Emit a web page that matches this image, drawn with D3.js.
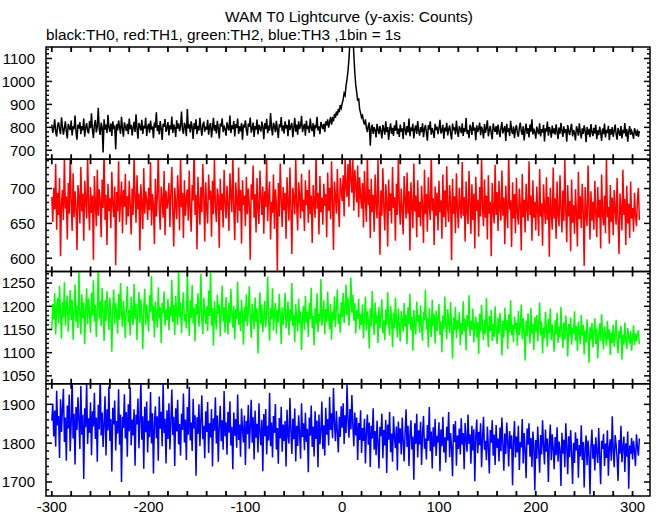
<!DOCTYPE html>
<html><head><meta charset="utf-8">
<script src="https://cdn.jsdelivr.net/npm/d3@7/dist/d3.min.js"></script>
<style>body{margin:0;background:#fff}text{font-family:"Liberation Sans",Arial,sans-serif}</style>
</head><body><svg id="c" width="661" height="515"></svg>
<script>
const titleText = "WAM T0 Lightcurve (y-axis: Counts)";
const subtitleText = "black:TH0, red:TH1, green:TH2, blue:TH3 ,1bin = 1s";
const binStart = -300; // time of first 1 s bin
const xTickLabels = [-300, -200, -100, 0, 100, 200, 300];

const th0 = [
812,776,798,835,781,760,809,822,790,771,844,803,768,797,826,783,752,815,799,788,
830,765,804,792,851,779,746,812,795,823,770,806,787,838,759,801,818,784,773,827,
796,861,789,754,810,832,778,804,885,792,767,820,801,690,835,790,812,776,855,799,
781,817,763,826,793,808,705,814,787,830,801,772,846,795,759,822,803,784,815,770,
838,792,811,765,799,824,780,857,796,751,819,804,787,833,771,808,795,842,762,801,
816,777,829,790,805,753,821,798,866,784,810,769,827,793,745,815,802,836,780,797,
823,765,809,791,847,776,812,799,758,831,794,817,783,806,869,789,772,820,804,761,
880,795,813,778,826,801,749,818,792,835,770,807,786,842,797,764,811,825,781,803,
790,833,768,805,819,756,798,841,785,810,773,828,796,752,817,803,839,779,808,791,
764,822,800,786,851,775,809,793,827,760,814,797,838,771,805,783,819,746,812,799,
831,788,764,816,802,843,777,795,821,758,806,790,834,769,811,796,782,825,803,748,
818,793,837,774,808,786,862,799,765,820,806,779,828,791,754,813,800,845,783,809,
772,826,795,810,761,834,788,804,819,757,797,841,781,812,768,826,793,806,850,779,
801,815,764,829,792,807,776,838,798,783,818,759,811,796,846,787,804,770,823,808,
792,815,780,826,808,835,799,822,846,812,838,827,858,841,869,852,880,866,897,884,
905,921,948,939,982,1010,1046,1098,1175,1230,1260,1205,1120,1040,985,952,915,928,880,862,
843,851,826,812,835,798,779,808,821,720,795,812,772,801,788,756,815,792,770,806,
784,752,811,793,768,826,779,801,745,790,817,772,798,763,809,785,831,770,795,758,
812,781,796,749,823,790,766,805,778,838,761,799,784,815,752,792,808,771,827,786,
764,801,779,818,757,793,811,775,742,809,790,826,768,797,781,754,815,788,803,770,
796,833,773,785,811,750,799,782,820,765,791,808,774,747,816,787,800,769,829,783,
758,806,792,775,818,763,797,781,840,772,788,753,811,796,767,823,785,799,744,809,
779,794,821,766,803,787,752,814,776,798,831,761,789,806,773,748,817,792,780,805,
768,812,784,757,797,823,774,790,806,741,815,779,796,762,828,787,771,804,753,792,
810,775,759,798,821,783,767,805,743,789,816,772,797,756,812,781,835,769,794,778,
751,803,786,770,818,760,792,777,811,739,796,782,825,764,801,787,755,808,774,795,
768,813,781,749,799,772,820,786,758,804,775,792,738,810,783,766,797,815,761,788,
776,743,805,790,764,818,779,752,796,771,809,785,735,801,768,793,757,814,780,762,
798,773,811,748,787,766,803,779,741,795,770,816,756,789,775,807,744,792,768,801,
759,784,812,771,746,797,778,763,806,752,789,774,819,760,793,738,781,805,767,785,
772,750,796,781,763,790,758,784];

const th1 = [
688,652,701,670,735,641,694,662,715,603,679,698,655,746,671,689,627,708,664,750,
681,639,722,659,696,673,612,705,688,650,731,667,693,625,711,684,657,748,676,640,
702,665,690,598,718,679,646,727,661,699,682,630,713,672,756,655,691,619,707,668,
686,643,724,677,659,703,590,695,667,739,652,681,710,636,698,674,721,648,689,660,
711,676,634,700,662,747,685,651,719,670,693,611,706,678,642,729,664,696,683,655,
701,669,738,647,692,676,620,714,660,688,752,672,641,703,685,658,725,633,697,671,
682,708,645,693,731,666,617,701,678,656,719,687,640,749,673,694,629,712,661,686,
699,654,726,670,638,705,683,760,662,691,613,717,677,648,702,666,735,689,624,709,
672,650,720,684,697,631,711,663,742,675,652,700,688,615,714,669,693,644,727,680,
657,704,678,639,722,691,666,748,673,626,709,685,651,730,668,698,621,712,676,690,
646,717,663,700,679,598,706,684,733,658,692,637,715,671,649,726,687,662,703,635,
696,674,741,653,688,710,627,681,665,720,642,699,677,581,708,660,736,683,645,702,
669,694,628,716,679,654,730,672,606,701,686,663,744,675,640,709,690,657,721,667,
684,639,712,676,698,651,727,663,690,622,705,680,658,751,671,694,634,718,666,687,
648,707,675,692,630,723,668,701,656,739,681,612,710,690,664,728,677,645,715,697,
682,719,660,746,701,688,735,674,758,712,694,741,668,727,705,680,733,659,716,690,
671,708,644,725,683,652,749,676,699,629,714,666,691,638,720,678,657,742,670,605,
697,661,729,675,640,706,684,617,713,668,693,650,731,672,688,625,707,662,745,679,
648,700,670,634,718,685,657,723,664,696,611,709,676,643,736,667,690,630,712,659,
681,646,704,672,622,727,663,692,638,716,674,655,750,668,686,619,703,661,694,640,
711,666,683,628,720,659,697,645,732,671,652,705,680,597,714,664,689,636,722,670,
643,701,675,657,738,661,688,624,710,667,649,725,678,635,706,655,693,614,717,668,
684,631,702,660,745,673,646,713,658,690,627,719,664,681,603,708,669,650,734,662,
695,639,711,672,654,726,661,687,620,704,667,643,752,670,683,616,709,657,692,636,
715,665,648,700,676,611,721,659,684,637,707,670,653,739,662,690,625,712,658,681,
640,703,669,632,728,660,679,618,706,671,649,716,655,688,602,701,665,641,730,657,
686,628,710,662,646,719,674,637,697,653,741,667,623,705,660,682,610,713,651,676,
635,699,664,617,724,656,689,643,707,668,589,702,661,646,733,672,627,696,654,681,
641,711,666,630,702,658,684,614,720,663,647,690,636,745,659,674,621,705,652,687,
633,698,667,648,715,655,606,693,671,640,727,662,685,619,704,650,678,629,710,657,
672,638,694,661,646,683,701,655];

const th2 = [
1150,1205,1172,1228,1139,1196,1218,1163,1244,1181,1130,1209,1176,1252,1158,1199,1223,1145,1187,1235,
1170,1214,1128,1193,1247,1166,1201,1153,1285,1182,1140,1226,1175,1208,1119,1192,1239,1161,1217,1185,
1143,1229,1180,1256,1167,1203,1134,1191,1290,1174,1211,1157,1240,1186,1125,1213,1168,1233,1194,1149,
1219,1177,1102,1198,1236,1162,1207,1184,1141,1227,1171,1250,1189,1155,1212,1178,1131,1200,1243,1165,
1192,1137,1221,1183,1159,1248,1173,1206,1127,1195,1231,1164,1215,1179,1108,1197,1238,1160,1204,1176,
1145,1224,1188,1266,1169,1201,1133,1210,1182,1154,1241,1174,1198,1121,1207,1186,1232,1158,1193,1170,
1216,1148,1199,1178,1257,1166,1203,1138,1222,1185,1160,1288,1176,1209,1142,1194,1230,1168,1184,1152,
1279,1190,1136,1213,1175,1246,1163,1197,1124,1205,1181,1228,1156,1192,1270,1171,1140,1218,1187,1162,
1200,1147,1234,1179,1281,1158,1196,1115,1211,1173,1150,1225,1183,1204,1135,1191,1245,1167,1198,1143,
1220,1176,1139,1208,1164,1237,1186,1154,1201,1129,1194,1172,1253,1160,1189,1146,1214,1180,1117,1199,
1168,1226,1157,1190,1243,1175,1132,1206,1181,1151,1219,1166,1195,1098,1184,1230,1161,1203,1144,1178,
1212,1155,1187,1264,1169,1126,1196,1173,1239,1148,1183,1207,1141,1192,1165,1227,1179,1119,1198,1160,
1185,1229,1152,1174,1211,1137,1193,1168,1250,1157,1182,1123,1205,1171,1146,1216,1163,1189,1106,1176,
1201,1149,1222,1165,1188,1134,1207,1172,1240,1153,1179,1116,1196,1161,1228,1144,1184,1167,1259,1158,
1181,1213,1140,1194,1166,1232,1175,1150,1205,1128,1188,1170,1221,1155,1197,1236,1162,1184,1143,1209,
1176,1229,1164,1195,1247,1180,1218,1158,1201,1262,1186,1225,1169,1207,1141,1192,1173,1216,1150,1183,
1160,1204,1131,1177,1221,1148,1189,1166,1109,1196,1157,1233,1172,1138,1208,1163,1182,1121,1199,1153,
1178,1215,1142,1170,1127,1193,1159,1230,1164,1137,1201,1175,1112,1186,1152,1219,1168,1133,1195,1160,
1124,1190,1171,1145,1207,1156,1183,1118,1198,1162,1227,1149,1177,1104,1192,1158,1139,1210,1166,1181,
1143,1202,1154,1126,1188,1169,1236,1150,1175,1111,1196,1161,1134,1214,1157,1183,1120,1191,1147,1172,
1205,1138,1167,1101,1180,1151,1221,1159,1129,1194,1163,1142,1209,1155,1087,1176,1148,1199,1131,1170,
1152,1187,1116,1164,1139,1211,1146,1173,1105,1181,1157,1224,1136,1168,1149,1195,1122,1160,1178,1133,
1166,1097,1184,1145,1203,1153,1127,1172,1140,1218,1158,1112,1179,1147,1192,1125,1163,1134,1200,1150,
1119,1175,1141,1186,1156,1094,1168,1132,1197,1149,1171,1108,1182,1143,1213,1137,1160,1123,1178,1151,
1165,1115,1190,1138,1157,1204,1129,1174,1146,1083,1169,1135,1185,1152,1120,1196,1141,1163,1106,1177,
1145,1181,1124,1159,1208,1137,1167,1099,1154,1131,1188,1148,1113,1173,1142,1195,1127,1161,1136,1102,
1170,1139,1186,1121,1156,1133,1199,1144,1110,1165,1128,1180,1150,1092,1162,1135,1176,1117,1153,1141,
1189,1126,1158,1104,1167,1143,1118,1181,1137,1160,1096,1149,1122,1172,1134,1078,1155,1129,1164,1111,
1146,1174,1119,1152,1088,1138,1163,1125,1183,1132,1107,1157,1140,1115,1169,1128,1150,1095,1144,1121,
1160,1113,1136,1171,1124,1099,1148,1130,1158,1085,1139,1117,1165,1127,1108,1153,1134,1120,1147,1104,
1131,1159,1116,1142,1125,1137,1149,1118];

const th3 = [
1858,1902,1817,1884,1791,1935,1846,1870,1762,1913,1829,1888,1940,1803,1866,1755,1897,1838,1925,1779,
1851,1968,1812,1876,1745,1893,1834,1918,1860,1785,1947,1822,1873,1708,1890,1841,1959,1798,1864,1827,
1905,1769,1882,1843,1930,1811,1866,1752,1899,1836,1975,1820,1879,1790,1852,1921,1768,1887,1833,1946,
1806,1862,1727,1891,1848,1910,1781,1857,1825,1939,1796,1874,1700,1868,1839,1926,1812,1880,1765,1900,
1831,1944,1795,1861,1820,1887,1742,1873,1848,1915,1787,1856,1963,1809,1869,1734,1894,1828,1907,1776,
1858,1816,1932,1799,1877,1722,1850,1895,1813,1869,1755,1920,1837,1881,1792,1954,1826,1863,1748,1885,
1811,1903,1784,1855,1938,1821,1868,1741,1890,1830,1912,1797,1849,1768,1876,1834,1928,1802,1861,1757,
1893,1822,1945,1807,1853,1780,1914,1838,1872,1716,1867,1824,1900,1793,1858,1923,1810,1845,1761,1882,
1829,1906,1775,1851,1815,1888,1740,1864,1832,1918,1799,1871,1752,1846,1896,1805,1859,1783,1934,1818,
1854,1770,1881,1827,1908,1794,1842,1733,1879,1819,1862,1788,1925,1808,1848,1765,1889,1836,1802,1871,
1744,1857,1823,1898,1786,1840,1912,1801,1867,1758,1884,1814,1850,1776,1903,1829,1795,1860,1728,1875,
1818,1888,1771,1845,1807,1930,1792,1853,1763,1870,1826,1901,1784,1839,1747,1865,1812,1894,1778,1848,
1806,1857,1740,1886,1821,1799,1916,1834,1772,1863,1810,1889,1753,1845,1793,1872,1825,1760,1903,1816,
1851,1782,1878,1803,1837,1725,1866,1819,1897,1790,1843,1766,1882,1811,1858,1738,1874,1797,1832,1907,
1785,1846,1768,1891,1822,1862,1794,1919,1834,1877,1813,1942,1850,1805,1883,1829,1776,1868,1816,1895,
1840,1903,1798,1872,1826,1951,1861,1814,1888,1835,1924,1847,1792,1879,1820,1866,1757,1852,1808,1885,
1775,1839,1806,1863,1748,1828,1874,1796,1853,1739,1845,1812,1890,1783,1831,1769,1858,1801,1735,1842,
1818,1876,1761,1834,1794,1860,1723,1848,1809,1881,1777,1825,1752,1869,1815,1787,1843,1730,1856,1800,
1838,1771,1866,1804,1753,1829,1887,1790,1845,1741,1821,1859,1784,1817,1706,1851,1798,1876,1763,1833,
1797,1855,1744,1824,1870,1786,1812,1758,1847,1806,1893,1779,1830,1735,1841,1791,1862,1767,1819,1802,
1854,1728,1835,1792,1868,1776,1815,1750,1842,1807,1880,1764,1826,1789,1715,1849,1803,1857,1742,1820,
1785,1838,1771,1864,1796,1826,1733,1852,1810,1778,1874,1798,1823,1747,1845,1781,1836,1702,1818,1861,
1774,1829,1795,1851,1738,1814,1868,1783,1806,1756,1843,1790,1722,1834,1801,1859,1768,1822,1744,1847,
1788,1812,1753,1840,1779,1866,1797,1729,1825,1772,1853,1806,1740,1831,1785,1820,1692,1804,1857,1763,
1817,1776,1845,1731,1803,1789,1862,1748,1826,1782,1710,1838,1796,1851,1765,1813,1739,1830,1792,1678,
1808,1760,1843,1785,1724,1821,1771,1859,1794,1745,1835,1778,1812,1700,1799,1848,1756,1823,1787,1733,
1816,1769,1841,1752,1804,1783,1690,1827,1773,1809,1738,1851,1791,1720,1818,1764,1834,1776,1695,1801,
1749,1828,1781,1812,1711,1795,1766,1846,1757,1803,1686,1788,1820,1743,1807,1772,1668,1792,1835,1760,
1797,1730,1815,1778,1749,1839,1768,1694,1806,1785,1824,1741,1799,1762,1833,1716,1790,1810,1755,1869,
1782,1738,1821,1796,1762,1703,1808,1773,1845,1751,1789,1817,1726,1800,1765,1830,1683,1794,1772,1813,
1758,1806,1779,1741,1823,1790,1768,1812];

const panelSeries = [th0, th1, th2, th3];
const panelColors = ["#000000", "#ff0000", "#00ff00", "#0000ff"];
const panelDomains = [[661, 1150], [581, 742], [1033, 1275], [1664, 1953]];
const panelMajor = [100, 50, 50, 100];
const panelMinor = [20, 10, 10, 20];

const svg = d3.select("#c");
const L = 46, R = 650, T = 47, PH = 112.25;
const x = d3.scaleLinear().domain([-306, 318]).range([L, R]);

svg.append("text").attr("x", 349).attr("y", 22).attr("text-anchor", "middle")
  .attr("font-size", 15.5).text(titleText);
svg.append("text").attr("x", 46).attr("y", 40).attr("font-size", 15.3).text(subtitleText);

panelSeries.forEach((vals, p) => {
  const y0 = T + p * PH, y1 = y0 + PH;
  const y = d3.scaleLinear().domain(panelDomains[p]).range([y1, y0]);
  const g = svg.append("g");
  const cid = "clip" + p;
  svg.append("clipPath").attr("id", cid).append("rect")
    .attr("x", L).attr("y", y0).attr("width", R - L).attr("height", PH);
  const line = d3.line().x((d, i) => x(binStart + i)).y(d => y(d));
  g.append("path").datum(vals).attr("clip-path", `url(#${cid})`)
    .attr("fill", "none").attr("stroke", panelColors[p]).attr("stroke-width", 1.5)
    .attr("stroke-linejoin", "miter").attr("d", line);

  // frame
  g.append("rect").attr("x", L).attr("y", y0).attr("width", R - L).attr("height", PH)
    .attr("fill", "none").attr("stroke", "#000").attr("stroke-width", 1.5);

  const [d0, d1] = panelDomains[p];
  const minors = d3.range(Math.ceil(d0 / panelMinor[p]) * panelMinor[p], d1, panelMinor[p]);
  const majors = d3.range(Math.ceil(d0 / panelMajor[p]) * panelMajor[p], d1, panelMajor[p]);
  minors.forEach(v => {
    const isMaj = v % panelMajor[p] === 0;
    const len = isMaj ? 6 : 3;
    g.append("line").attr("x1", L).attr("x2", L + len).attr("y1", y(v)).attr("y2", y(v))
      .attr("stroke", "#000").attr("stroke-width", 1.5);
    g.append("line").attr("x1", R).attr("x2", R - len).attr("y1", y(v)).attr("y2", y(v))
      .attr("stroke", "#000").attr("stroke-width", 1.5);
  });
  majors.forEach(v => {
    g.append("text").attr("x", 35).attr("y", y(v)).attr("dy", "0.36em")
      .attr("text-anchor", "end").attr("font-size", 15).text(String(v));
  });
  // x ticks on top and bottom of each panel
  d3.range(-300, 318, 20).forEach(t => {
    g.append("line").attr("x1", x(t)).attr("x2", x(t)).attr("y1", y0).attr("y2", y0 + 5)
      .attr("stroke", "#000").attr("stroke-width", 1.8);
    g.append("line").attr("x1", x(t)).attr("x2", x(t)).attr("y1", y1).attr("y2", y1 - 5)
      .attr("stroke", "#000").attr("stroke-width", 1.8);
  });
});

xTickLabels.forEach(t => {
  svg.append("text").attr("x", x(t)).attr("y", 512).attr("text-anchor", "middle")
    .attr("font-size", 15).text(String(t));
});
</script></body></html>
